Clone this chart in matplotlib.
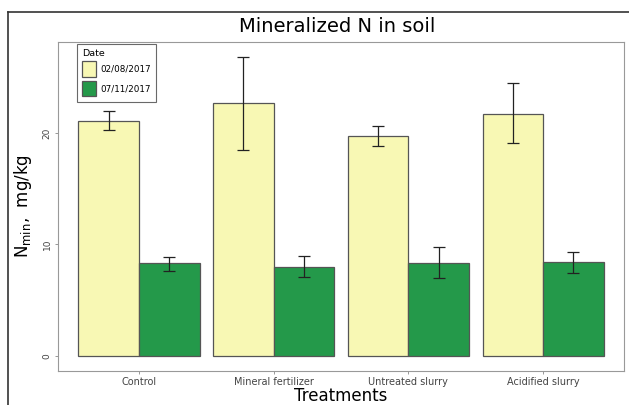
import matplotlib
matplotlib.use("Agg")
import matplotlib.pyplot as plt
import numpy as np

# Data
treatments = ["Control", "Mineral fertilizer", "Untreated slurry", "Acidified slurry"]
dates = ["02/08/2017", "07/11/2017"]

mean_aug = [21.1, 22.7, 19.7, 21.7]
low_aug = [20.3, 18.5, 18.8, 19.1]
high_aug = [22.0, 26.8, 20.6, 24.5]

mean_nov = [8.3, 8.0, 8.35, 8.4]
low_nov = [7.6, 7.05, 7.0, 7.45]
high_nov = [8.9, 9.0, 9.8, 9.35]

colors = ["#f8f8b4", "#24994a"]

fig = plt.figure(figsize=(6.29, 4.05), dpi=100)
# plot panel in pixels: x 58..624, y 42..371 (from top)
ax = fig.add_axes([58 / 629, (405 - 371) / 405, (624 - 58) / 629, (371 - 42) / 405])

x = np.arange(1, len(treatments) + 1)
w = 0.45
series = [(mean_aug, low_aug, high_aug), (mean_nov, low_nov, high_nov)]
for i, (m, lo, hi) in enumerate(series):
    pos = x + (i - 0.5) * w
    m = np.array(m)
    err = [m - np.array(lo), np.array(hi) - m]
    ax.bar(pos, m, width=w, color=colors[i], edgecolor="#555555", linewidth=0.9,
           label=dates[i], zorder=2)
    ax.errorbar(pos, m, yerr=err, fmt="none", ecolor="#222222", elinewidth=0.9,
                capsize=4.5, capthick=0.9, zorder=3)

ax.set_xlim(0.4, 4.6)
ax.set_ylim(-1.34, 28.15)
ax.set_xticks(x)
ax.set_xticklabels(treatments, fontsize=7, color="#444444")
ax.set_yticks([0, 10, 20])
ax.set_yticklabels(["0", "10", "20"], fontsize=6.5, color="#444444", rotation=90, va="center")
ax.tick_params(length=2.5, color="#888888", width=0.6, pad=2)
for s in ax.spines.values():
    s.set_color("#999999")
    s.set_linewidth(0.8)

ax.set_xlabel("Treatments", fontsize=12, labelpad=0)
ax.set_ylabel(r"N$_{\mathrm{min}}$,  mg/kg", fontsize=12, labelpad=6)

fig.text(337 / 629, 1 - 27 / 405, "Mineralized N in soil", ha="center", va="center", fontsize=14)

leg = ax.legend(title="Date", loc="upper left", bbox_to_anchor=(0.034, 0.995),
                borderaxespad=0, fontsize=6.3, title_fontsize=6.8, frameon=True,
                fancybox=False, handlelength=1.5, handleheight=2.4, borderpad=0.6,
                labelspacing=0.4, handletextpad=0.5)
leg.get_frame().set_edgecolor("#444444")
leg.get_frame().set_linewidth(0.8)
leg._legend_box.align = "left"

# outer frame (top and left edges of the screenshot)
fig.add_artist(plt.Line2D([8 / 629, 1], [1 - 12 / 405, 1 - 12 / 405], color="#333333", lw=1.2))
fig.add_artist(plt.Line2D([8 / 629, 8 / 629], [0, 1 - 12 / 405], color="#333333", lw=1.2))

fig.savefig("out.png", dpi=100)
